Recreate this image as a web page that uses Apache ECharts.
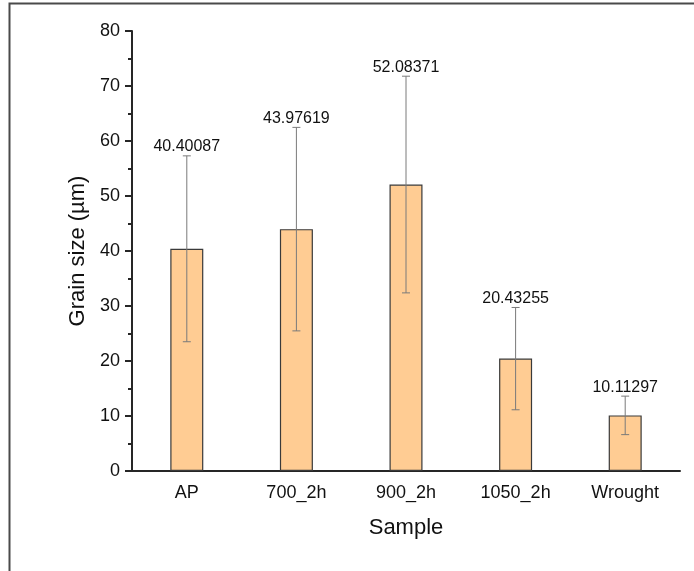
<!DOCTYPE html>
<html>
<head>
<meta charset="utf-8">
<style>
html, body { margin: 0; padding: 0; background: #fff; }
#main { width: 694px; height: 571px; }
</style>
<script src="https://cdn.jsdelivr.net/npm/echarts@6/dist/echarts.min.js"></script>
</head>
<body>
<div id="main"></div>
<script>
// data
var samples = ['AP', '700_2h', '900_2h', '1050_2h', 'Wrought'];
var grainSize = [40.40087, 43.97619, 52.08371, 20.43255, 10.11297];
var grainSd = [16.9, 18.5, 19.7, 9.3, 3.5];
var labelText = ['40.40087', '43.97619', '52.08371', '20.43255', '10.11297'];

var errData = [];
for (var i = 0; i < samples.length; i++) {
  errData.push([i, grainSize[i] - grainSd[i], grainSize[i] + grainSd[i], labelText[i]]);
}

var fontFam = 'Liberation Sans, Arial, sans-serif';
var axisCol = '#262626';

var option = {
  animation: false,
  textStyle: { fontFamily: fontFam },
  grid: { left: 132, right: 14, top: 31, bottom: 100 },
  graphic: [{
    type: 'polyline',
    shape: { points: [[9.5, 571], [9.5, 3.5], [694, 3.5]] },
    style: { stroke: '#4a4a4a', lineWidth: 2, fill: null }
  }],
  xAxis: [{
    type: 'category',
    data: samples,
    name: 'Sample',
    nameLocation: 'middle',
    nameGap: 46,
    nameTextStyle: { fontSize: 22, color: '#111', fontFamily: fontFam },
    axisLine: { lineStyle: { color: axisCol, width: 2 } },
    axisTick: { alignWithLabel: true, length: 7, lineStyle: { color: axisCol, width: 2 } },
    axisLabel: { fontSize: 18, color: '#111', margin: 13, fontFamily: fontFam }
  }, {
    type: 'category',
    data: samples,
    position: 'bottom',
    axisLine: { show: false },
    axisTick: { length: 4, lineStyle: { color: axisCol, width: 2 } },
    axisLabel: { show: false }
  }],
  yAxis: {
    type: 'value',
    min: 0,
    max: 80,
    interval: 10,
    name: 'Grain size (µm)',
    nameLocation: 'middle',
    nameGap: 42,
    nameTextStyle: { fontSize: 22, color: '#111', fontFamily: fontFam },
    axisLine: { show: true, lineStyle: { color: axisCol, width: 2 } },
    axisTick: { show: true, length: 7, lineStyle: { color: axisCol, width: 2 } },
    minorTick: { show: true, splitNumber: 2, length: 4, lineStyle: { color: axisCol, width: 2 } },
    splitLine: { show: false },
    axisLabel: { fontSize: 18, color: '#111', margin: 12, fontFamily: fontFam }
  },
  series: [{
    type: 'bar',
    data: grainSize,
    barWidth: 33,
    itemStyle: { color: '#FFCC93', borderColor: '#3a3a3a', borderWidth: 1.2 }
  }, {
    type: 'custom',
    data: errData,
    z: 10,
    renderItem: function (params, api) {
      var x = api.coord([api.value(0), 0])[0];
      var lo = api.coord([api.value(0), api.value(1)])[1];
      var hi = api.coord([api.value(0), api.value(2)])[1];
      var cap = 4;
      var st = { stroke: '#7a7a7a', lineWidth: 1 };
      return {
        type: 'group',
        children: [
          { type: 'line', shape: { x1: x, y1: hi, x2: x, y2: lo }, style: st },
          { type: 'line', shape: { x1: x - cap, y1: hi, x2: x + cap, y2: hi }, style: st },
          { type: 'line', shape: { x1: x - cap, y1: lo, x2: x + cap, y2: lo }, style: st },
          {
            type: 'text',
            style: {
              text: labelText[params.dataIndex],
              x: x, y: hi - 1,
              align: 'center', verticalAlign: 'bottom',
              fontSize: 16, fill: '#111', fontFamily: fontFam
            }
          }
        ]
      };
    }
  }]
};

var myChart = echarts.init(document.getElementById('main'));
myChart.setOption(option);
</script>
</body>
</html>
